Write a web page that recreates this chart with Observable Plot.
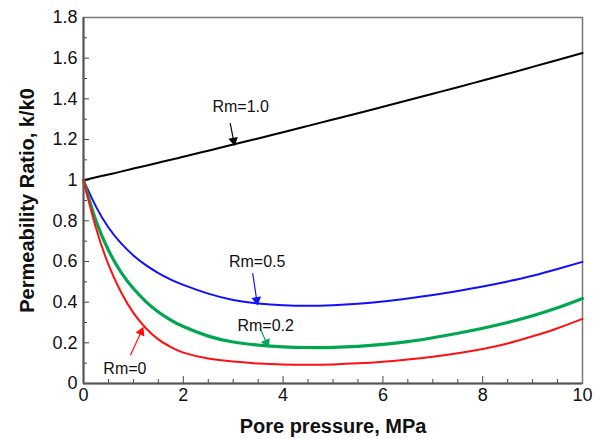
<!DOCTYPE html>
<html>
<head>
<meta charset="utf-8">
<script src="https://cdn.jsdelivr.net/npm/d3@7"></script>
<script src="https://cdn.jsdelivr.net/npm/@observablehq/plot@0.6"></script>
<style>
  html, body { margin: 0; padding: 0; background: #fff; }
  svg [aria-label="x-axis label"], svg [aria-label="y-axis label"] { font-weight: bold; font-size: 20px; }
</style>
</head>
<body>
<div id="chart"></div>
<script>
const pressure = [0,0.25,0.5,0.75,1,1.25,1.5,1.75,2,2.5,3,3.5,4,4.5,5,5.5,6,6.5,7,7.5,8,8.5,9,9.5,10];
const rm10 = [1,1.014,1.028,1.042,1.057,1.071,1.086,1.100,1.115,1.145,1.175,1.205,1.236,1.267,1.298,1.329,1.361,1.393,1.425,1.457,1.49,1.523,1.557,1.591,1.625];
const rm05 = [1,0.87,0.767,0.69,0.63,0.582,0.543,0.511,0.485,0.442,0.411,0.394,0.385,0.382,0.385,0.392,0.403,0.418,0.435,0.455,0.477,0.502,0.53,0.563,0.598];
const rm02 = [1,0.80,0.655,0.548,0.467,0.403,0.352,0.312,0.280,0.233,0.204,0.189,0.18,0.177,0.178,0.183,0.192,0.206,0.225,0.247,0.272,0.3,0.333,0.372,0.418];
const rm00 = [1,0.765,0.585,0.45,0.347,0.272,0.217,0.179,0.152,0.123,0.108,0.098,0.093,0.092,0.094,0.099,0.107,0.118,0.132,0.149,0.17,0.197,0.232,0.272,0.318];

const seriesNames = ["Rm=1.0","Rm=0.5","Rm=0.2","Rm=0"];
const seriesValues = [rm10, rm05, rm02, rm00];
const seriesColors = ["#000000","#1010ff","#00a650","#ff1010"];
const seriesWidths = [2, 2, 3.2, 2];

const xTicks = [0,2,4,6,8,10];
const yTicks = [0,0.2,0.4,0.6,0.8,1,1.2,1.4,1.6,1.8];
const yTickLabels = ["0","0.2","0.4","0.6","0.8","1","1.2","1.4","1.6","1.8"];
const xMinor = d3.range(0, 10.01, 0.5);
const yMinor = d3.range(0, 1.801, 0.1);

// annotations: label position and arrow (data coordinates)
const annLabel = ["Rm=1.0","Rm=0.5","Rm=0.2","Rm=0"];
const annX = [3.15, 3.48, 3.65, 0.83];
const annY = [1.358, 0.597, 0.285, 0.07];
const arrX1 = [2.94, 3.39, 3.56, 0.94];
const arrY1 = [1.28, 0.543, 0.261, 0.139];
const arrX2 = [3.02, 3.48, 3.69, 1.18];
const arrY2 = [1.18, 0.396, 0.187, 0.267];
const arrColor = ["#000000","#1010ff","#00a650","#ff1010"];

const rows = seriesNames.flatMap((s, i) => pressure.map((p, j) => ({s, i, x: p, y: seriesValues[i][j]})));
const xPx = 499/10, yPx = 366/1.8;
const anns = annLabel.map((t, i) => {
  const dx = (arrX2[i] - arrX1[i]) * xPx, dy = -(arrY2[i] - arrY1[i]) * yPx;
  const len = Math.hypot(dx, dy);
  const back = 3; // px, so the head's centroid sits just behind the tip
  return {t, x: annX[i], y: annY[i], x1: arrX1[i], y1: arrY1[i], x2: arrX2[i], y2: arrY2[i], c: arrColor[i],
    hx: arrX2[i] - (dx / len) * back / xPx, hy: arrY2[i] + (dy / len) * back / yPx,
    rot: Math.atan2(dx, -dy) * 180 / Math.PI};
});

const chart = Plot.plot({
  width: 601,
  height: 439,
  marginLeft: 83,
  marginRight: 19,
  marginTop: 17,
  marginBottom: 56,
  style: {fontFamily: "'Liberation Sans', Arial, sans-serif", fontSize: "18px", color: "#111"},
  x: {domain: [0, 10]},
  y: {domain: [0, 1.8]},
  marks: [
    Plot.axisX({ticks: xTicks, tickSize: 0, tickPadding: 5, fontSize: 18, label: "Pore pressure, MPa", labelAnchor: "center", labelArrow: "none", labelOffset: 49}),
    Plot.axisY({ticks: yTicks, tickFormat: (d, i) => yTickLabels[i], tickSize: 0, tickPadding: 6, fontSize: 18, label: "Permeability Ratio, k/k0", labelAnchor: "center", labelArrow: "none", labelOffset: 64}),
    Plot.ruleX(xMinor, {x: d => d, y1: 0, y2: d => (d % 2 === 0 ? 7 : 4) / yPx, stroke: "#444", strokeWidth: 1}),
    Plot.ruleY(yMinor, {y: d => d, x1: 0, x2: d => (Math.round(d * 10) % 2 === 0 ? 6 : 4) / xPx, stroke: "#444", strokeWidth: 1}),
    Plot.frame({stroke: "#777", strokeWidth: 1.5}),
    Plot.ruleX([0], {stroke: "#555", strokeWidth: 2}),
    Plot.ruleY([0], {stroke: "#555", strokeWidth: 2}),
    ...seriesNames.map((s, i) => Plot.line(rows.filter(r => r.i === i), {x: "x", y: "y", stroke: seriesColors[i], strokeWidth: seriesWidths[i], curve: "natural"})),
    Plot.link(anns, {x1: "x1", y1: "y1", x2: "hx", y2: "hy", stroke: "c", strokeWidth: 1.2}),
    Plot.dot(anns, {x: "hx", y: "hy", symbol: "triangle", r: 3.6, fill: "c", stroke: "none", rotate: "rot"}),
    Plot.text(anns, {x: "x", y: "y", text: "t", fontSize: 16, fill: "#111"})
  ]
});
document.getElementById("chart").appendChild(chart);
</script>
</body>
</html>
